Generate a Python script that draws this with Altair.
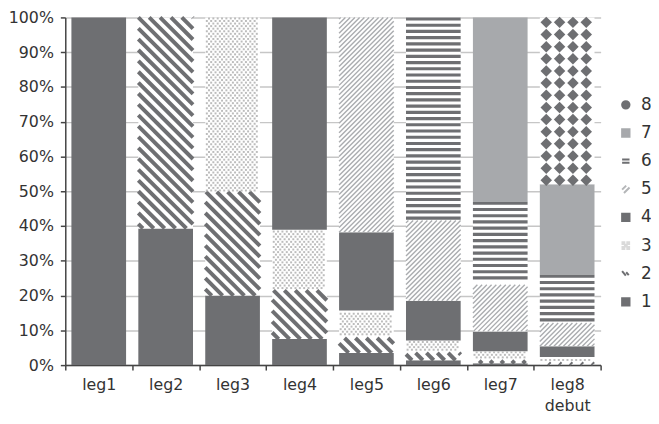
import math
import altair as alt
import pandas as pd

# ---------------- data ----------------
categories = ["leg1", "leg2", "leg3", "leg4", "leg5", "leg6", "leg7", "leg8 debut"]
axis_labels = [["leg1"], ["leg2"], ["leg3"], ["leg4"], ["leg5"], ["leg6"], ["leg7"], ["leg8", "debut"]]
series = ["1", "2", "3", "4", "5", "6", "7", "8"]

# share (%) of each series in each category, stacked from series 1 (bottom) upward
s1 = [100.0, 39.3, 20.0, 7.5, 3.5, 1.4, 0.5, 0.2]
s2 = [0.0, 60.7, 29.8, 14.0, 4.3, 2.1, 0.8, 0.4]
s3 = [0.0, 0.0, 50.2, 17.4, 7.9, 3.6, 2.7, 1.7]
s4 = [0.0, 0.0, 0.0, 61.1, 22.5, 11.4, 5.7, 3.1]
s5 = [0.0, 0.0, 0.0, 0.0, 61.8, 23.1, 13.4, 6.7]
s6 = [0.0, 0.0, 0.0, 0.0, 0.0, 58.4, 23.9, 13.9]
s7 = [0.0, 0.0, 0.0, 0.0, 0.0, 0.0, 53.0, 26.0]
s8 = [0.0, 0.0, 0.0, 0.0, 0.0, 0.0, 0.0, 48.0]
shares = [s1, s2, s3, s4, s5, s6, s7, s8]

# ---------------- style ----------------
DARK = "#6e6f72"
LIGHT = "#a7a9ac"
TEXT = "#333333"
FONT = "DejaVu Sans"
BASE_FILL = {"1": DARK, "2": "white", "3": "white", "4": DARK,
             "5": "white", "6": "white", "7": LIGHT, "8": "white"}

PLOT_W, PLOT_H = 542, 352
N = len(categories)
PX_X = PLOT_W / N          # pixels per x unit
PX_Y = PLOT_H / 100.0      # pixels per percent
HALF = 0.4085              # half bar width in x units
SLOPE = PX_X / PX_Y        # 45 degree slope in (% per x unit)

# ---------------- derived tables ----------------
seg_rows = []
for i, cat in enumerate(categories):
    cum = 0.0
    for k, name in enumerate(series):
        v = shares[k][i]
        if v <= 0:
            continue
        seg_rows.append(dict(cat=cat, series=name, xL=i + 1 - HALF, xR=i + 1 + HALF,
                             y0=cum, y1=cum + v, fill=BASE_FILL[name]))
        cum += v
seg = pd.DataFrame(seg_rows)


def diag(r, spacing_px, forward):
    W = r["xR"] - r["xL"]
    sp = spacing_px / PX_Y
    out = []
    if forward:
        c_min, c_max = r["y0"] - SLOPE * W, r["y1"]
    else:
        c_min, c_max = r["y0"], r["y1"] + SLOPE * W
    k = math.ceil(c_min / sp)
    while k * sp <= c_max:
        c = k * sp
        if forward:
            tlo = max(0.0, (r["y0"] - c) / SLOPE)
            thi = min(W, (r["y1"] - c) / SLOPE)
            va, vb = c + SLOPE * tlo, c + SLOPE * thi
        else:
            tlo = max(0.0, (c - r["y1"]) / SLOPE)
            thi = min(W, (c - r["y0"]) / SLOPE)
            va, vb = c - SLOPE * tlo, c - SLOPE * thi
        if thi - tlo > 1e-4:
            out.append(dict(xa=r["xL"] + tlo, xb=r["xL"] + thi, ya=va, yb=vb))
        k += 1
    return out


def hlines(r, spacing_px, width_px):
    sp = spacing_px / PX_Y
    hw = width_px / 2 / PX_Y
    out = []
    y = r["y1"] - hw
    while y >= r["y0"] + hw * 0.5:
        out.append(dict(xa=r["xL"], xb=r["xR"], ya=y, yb=y))
        y -= sp
    return out


def dots(r, dx_px, dy_px):
    out = []
    W_px = (r["xR"] - r["xL"]) * PX_X
    k = math.ceil((r["y0"] * PX_Y + 1.2) / dy_px)
    while k * dy_px <= r["y1"] * PX_Y - 1.0:
        off = 1.6 + (dx_px / 2 if k % 2 else 0.0)
        x = off
        while x <= W_px - 1.2:
            out.append(dict(px=r["xL"] + x / PX_X, py=k * dy_px / PX_Y))
            x += dx_px
        k += 1
    return out


def diamonds(r, cols_px, dy_px, top_px):
    out = []
    y = r["y1"] * PX_Y - top_px
    while y >= r["y0"] * PX_Y + 3:
        for c in cols_px:
            out.append(dict(px=r["xL"] + c / PX_X, py=y / PX_Y))
        y -= dy_px
    return out


s2_lines, s5_lines, s6_lines, s3_dots, s8_marks = [], [], [], [], []
for _, r in seg.iterrows():
    if r["series"] == "2":
        s2_lines += diag(r, 11.0, forward=False)
    elif r["series"] == "5":
        s5_lines += diag(r, 4.8, forward=True)
    elif r["series"] == "6":
        s6_lines += hlines(r, 6.3, 3.2)
    elif r["series"] == "3":
        s3_dots += dots(r, 4.4, 2.6)
    elif r["series"] == "8":
        s8_marks += diamonds(r, [6.5, 20.0, 33.5, 47.0], 12.3, 5.0)

# ---------------- scales / axes ----------------
xs = alt.Scale(domain=[0.5, N + 0.5], nice=False, zero=False)
ys = alt.Scale(domain=[0, 100], nice=False, zero=True)


def lbl(parts):
    if len(parts) == 1:
        return "'%s'" % parts[0]
    return "[" + ",".join("'%s'" % p for p in parts) + "]"


label_expr = "''"
for i in range(N - 1, -1, -1):
    label_expr = "(round(datum.value - 0.5) == %d ? %s : %s)" % (i, lbl(axis_labels[i]), label_expr)

xaxis = alt.Axis(values=[0.5 + i for i in range(N + 1)], labelExpr=label_expr,
                 labelOffset=PX_X / 2, tickSize=5, tickColor="#444", tickWidth=1.5,
                 domainColor="#444", domainWidth=1.5, grid=False, title=None,
                 labelFont=FONT, labelFontSize=16, labelColor=TEXT, labelPadding=7,
                 labelLineHeight=21, labelAngle=0, labelAlign="center", labelBaseline="top",
                 labelFlush=False, labelOverlap=False)
yaxis = alt.Axis(values=list(range(0, 101, 10)), labelExpr="datum.value + '%'",
                 tickSize=5, tickColor="#444", tickWidth=1.5, domainColor="#444",
                 domainWidth=1.5, grid=True, gridColor="#c6c6c6", gridWidth=1.5,
                 title=None, labelFont=FONT, labelFontSize=16, labelColor=TEXT,
                 labelPadding=7, labelFlush=False, labelOverlap=False, labelBound=False)

bars = alt.Chart(seg).mark_rect(strokeWidth=0).encode(
    x=alt.X("xL:Q", scale=xs, axis=xaxis),
    x2="xR:Q",
    y=alt.Y("y0:Q", scale=ys, axis=yaxis),
    y2="y1:Q",
    fill=alt.Fill("fill:N", scale=None),
)


def rule_layer(rows, color, width):
    return alt.Chart(pd.DataFrame(rows)).mark_rule(color=color, strokeWidth=width, strokeCap="butt").encode(
        x=alt.X("xa:Q", scale=xs, axis=xaxis), x2="xb:Q",
        y=alt.Y("ya:Q", scale=ys, axis=yaxis), y2="yb:Q")


l2 = rule_layer(s2_lines, DARK, 4.0)
l5 = rule_layer(s5_lines, "#aaacaf", 1.4)
l6 = rule_layer(s6_lines, DARK, 3.2)

l3 = alt.Chart(pd.DataFrame(s3_dots)).mark_square(size=4, color="#bcbcbc", opacity=1, strokeWidth=0).encode(
    x=alt.X("px:Q", scale=xs, axis=xaxis), y=alt.Y("py:Q", scale=ys, axis=yaxis))
l8 = alt.Chart(pd.DataFrame(s8_marks)).mark_point(shape="diamond", filled=True, size=135, color=DARK,
                                                   opacity=1, strokeWidth=0).encode(
    x=alt.X("px:Q", scale=xs, axis=xaxis), y=alt.Y("py:Q", scale=ys, axis=yaxis))

# ---------------- legend ----------------
leg_order = series[::-1]
leg_shape = {"8": "circle", "7": "square", "6": "M-1,-0.45H1M-1,0.45H1",
             "5": "M-1,0.1L0.1,-1M-0.5,1L1,-0.5", "4": "square",
             "3": "M-0.9,-0.9h0.5v0.5h-0.5zM0.4,-0.9h0.5v0.5h-0.5zM-0.25,-0.25h0.5v0.5h-0.5zM-0.9,0.4h0.5v0.5h-0.5zM0.4,0.4h0.5v0.5h-0.5z",
             "2": "M-1,-0.7L0,0.5M0.1,-0.4L0.8,0.4", "1": "square"}
leg_fill = {"8": DARK, "7": LIGHT, "6": "transparent", "5": "transparent", "4": DARK,
            "3": "#d6d6d6", "2": "transparent", "1": DARK}
leg_stroke = {"8": DARK, "7": LIGHT, "6": DARK, "5": "#b4b6b8", "4": DARK,
              "3": "#dadada", "2": DARK, "1": DARK}

leg = alt.Legend(title=None, orient="none", legendX=559, legendY=80, padding=0,
                 labelFont=FONT, labelFontSize=17, labelColor=TEXT, labelOffset=7,
                 symbolSize=56, symbolStrokeWidth=2, rowPadding=10.5, symbolOpacity=1)

legend_layer = alt.Chart(pd.DataFrame({"series": series})).mark_point(filled=True, opacity=1).encode(
    shape=alt.Shape("series:N", scale=alt.Scale(domain=leg_order, range=[leg_shape[s] for s in leg_order]), legend=leg),
    fill=alt.Fill("series:N", scale=alt.Scale(domain=leg_order, range=[leg_fill[s] for s in leg_order]), legend=leg),
    stroke=alt.Stroke("series:N", scale=alt.Scale(domain=leg_order, range=[leg_stroke[s] for s in leg_order]), legend=leg),
).transform_filter("false")

chart = alt.layer(bars, l2, l5, l6, l3, l8, legend_layer).properties(
    width=PLOT_W, height=PLOT_H,
    autosize=alt.AutoSizeParams(type="none"),
    padding={"left": 58, "top": 7, "right": 51, "bottom": 50},
    background="white",
).configure_view(stroke=None).configure_axis(title=None)

chart.save("out.html", embed_options={"renderer": "svg", "actions": False})
